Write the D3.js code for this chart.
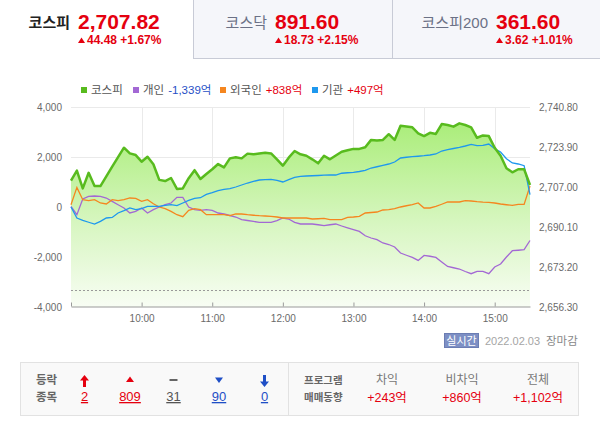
<!DOCTYPE html>
<html lang="ko">
<head>
<meta charset="utf-8">
<script src="https://cdn.jsdelivr.net/npm/d3@7"></script>
<style>
body { margin: 0; background: #fff; overflow: hidden; }
svg { display: block; font-family: "Liberation Sans", "Noto Sans CJK KR", sans-serif; }
</style>
</head>
<body>
<script>
// 데이터 (5분 단위)
var times = ["09:00","09:05","09:10","09:15","09:20","09:25","09:30","09:35","09:40","09:45",
  "09:50","09:55","10:00","10:05","10:10","10:15","10:20","10:25","10:30","10:35",
  "10:40","10:45","10:50","10:55","11:00","11:05","11:10","11:15","11:20","11:25",
  "11:30","11:35","11:40","11:45","11:50","11:55","12:00","12:05","12:10","12:15",
  "12:20","12:25","12:30","12:35","12:40","12:45","12:50","12:55","13:00","13:05",
  "13:10","13:15","13:20","13:25","13:30","13:35","13:40","13:45","13:50","13:55",
  "14:00","14:05","14:10","14:15","14:20","14:25","14:30","14:35","14:40","14:45",
  "14:50","14:55","15:00","15:05","15:10","15:15","15:20","15:25","15:30"];

var kospi = [2709.7,2713.9,2706.4,2713.0,2707.4,2707.4,2711.5,2715.6,2719.6,2723.6,
  2721.2,2720.5,2717.7,2719.8,2716.6,2710.0,2709.5,2710.8,2706.2,2706.4,
  2710.7,2714.1,2710.4,2712.5,2714.5,2716.7,2715.3,2719.1,2719.6,2719.1,
  2721.1,2720.8,2721.2,2721.5,2721.2,2718.7,2716.0,2719.4,2722.2,2720.8,
  2720.2,2718.7,2717.0,2720.2,2718.7,2720.3,2721.9,2722.5,2723.1,2723.1,
  2723.8,2726.9,2726.6,2726.9,2729.3,2726.9,2732.9,2732.6,2732.2,2729.7,
  2728.5,2729.9,2729.4,2733.6,2733.2,2732.5,2733.9,2733.2,2732.2,2727.8,
  2728.8,2728.5,2723.6,2720.2,2714.9,2713.2,2714.5,2714.5,2707.82];

var individual = [20,-308,320,424,440,424,360,224,92,-40,
  -240,-176,-40,-240,-108,0,92,160,384,384,
  0,-108,-136,-108,-136,-240,-280,-340,-400,-508,
  -540,-576,-616,-616,-616,-548,-440,-480,-616,-680,
  -680,-680,-710,-748,-710,-680,-760,-835,-905,-976,
  -1150,-1240,-1308,-1440,-1500,-1600,-1840,-1930,-2016,-2136,
  -1936,-1970,-2016,-2200,-2376,-2430,-2480,-2580,-2668,-2576,
  -2576,-2668,-2400,-2280,-2000,-1748,-1730,-1708,-1339];

var foreign = [92,784,292,252,292,160,120,292,252,292,
  360,344,224,292,132,0,-68,-176,-308,-388,
  -136,-68,-108,-308,-308,-308,-308,-348,-280,-280,
  -308,-330,-348,-360,-376,-400,-440,-440,-440,-440,
  -440,-480,-470,-456,-508,-508,-508,-416,-400,-376,
  -240,-220,-200,-120,-108,-68,0,50,92,160,
  -40,-40,24,110,200,200,200,252,240,212,
  195,184,160,120,90,64,104,104,838];

var institution = [0,-440,-536,-610,-680,-576,-440,-416,-240,-148,
  -40,-108,-68,24,24,24,64,92,52,160,
  264,344,372,504,572,652,704,732,800,880,
  960,1024,1080,1095,1104,1064,1000,1092,1184,1224,
  1240,1250,1260,1275,1280,1280,1350,1370,1384,1420,
  1464,1560,1610,1664,1720,1800,1960,1990,2012,2030,
  2052,2080,2120,2240,2292,2340,2384,2440,2504,2452,
  2464,2520,2332,2200,1932,1760,1720,1652,497];

var leftTicks = [-4000, -2000, 0, 2000, 4000];
var rightTicks = [2656.30, 2673.20, 2690.10, 2707.00, 2723.90, 2740.80];
var hourTicks = ["09:00", "10:00", "11:00", "12:00", "13:00", "14:00", "15:00"];
var prevClose = 2663.34;

var tabNames = ["코스피", "코스닥", "코스피200"];
var tabValues = ["2,707.82", "891.60", "361.60"];
var tabChanges = ["44.48 +1.67%", "18.73 +2.15%", "3.62 +1.01%"];

var legendNames = ["코스피", "개인", "외국인", "기관"];
var legendValues = ["", "-1,339억", "+838억", "+497억"];

var breadthCounts = ["2", "809", "31", "90", "0"];
var programLabels = ["차익", "비차익", "전체"];
var programValues = ["+243억", "+860억", "+1,102억"];

var red = "#e5000f", blue = "#1f4fc6";
var seriesColors = ["#58bb1e", "#a368d4", "#f5861f", "#1e98ee"];

var svg = d3.select("body").append("svg").attr("width", 600).attr("height", 426);

// 탭
var tabLeft = [0, 193.5, 392.5];
var tabRight = [193.5, 392.5, 601];
var labelEnd = [70, 267, 488];
[1, 2].forEach(function(i) {
  svg.append("rect")
    .attr("x", tabLeft[i]).attr("y", -1)
    .attr("width", tabRight[i] - tabLeft[i]).attr("height", 59.5)
    .attr("fill", "#f5f6fa").attr("stroke", "#c8cbd6");
});
tabNames.forEach(function(name, i) {
  svg.append("text")
    .attr("x", labelEnd[i]).attr("y", 28)
    .attr("text-anchor", "end")
    .attr("font-size", 15)
    .attr("font-weight", i === 0 ? "bold" : "normal")
    .attr("fill", i === 0 ? "#222" : "#6b7186")
    .text(name);
  svg.append("text")
    .attr("x", labelEnd[i] + 8).attr("y", 29)
    .attr("font-size", 21).attr("font-weight", "bold")
    .attr("fill", red)
    .text(tabValues[i]);
  var tx = labelEnd[i] + 8;
  svg.append("path")
    .attr("d", "M" + (tx + 3.5) + ",37.5L" + (tx + 7) + ",43L" + tx + ",43Z")
    .attr("fill", red);
  svg.append("text")
    .attr("x", tx + 9).attr("y", 44)
    .attr("font-size", 12).attr("font-weight", "bold")
    .attr("fill", red)
    .text(tabChanges[i]);
});

// 범례
var legendX = [81, 133, 220, 312];
legendNames.forEach(function(name, i) {
  svg.append("rect")
    .attr("x", legendX[i]).attr("y", 87)
    .attr("width", 6).attr("height", 6)
    .attr("fill", seriesColors[i]);
  var t = svg.append("text")
    .attr("x", legendX[i] + 10).attr("y", 93.5)
    .attr("font-size", 11.5).attr("fill", "#555");
  t.append("tspan").text(name);
  if (legendValues[i]) {
    t.append("tspan")
      .attr("dx", 4)
      .attr("fill", legendValues[i].charAt(0) === "-" ? blue : red)
      .text(legendValues[i]);
  }
});

// 스케일
var parseTime = d3.timeParse("%H:%M");
var x = d3.scaleTime().domain([parseTime("09:00"), parseTime("15:30")]).range([71, 530]);
var y = d3.scaleLinear().domain([-4000, 4000]).range([307, 107]);
var yPrice = d3.scaleLinear().domain([2656.3, 2740.8]).range([307, 107]);

var rows = times.map(function(t, i) {
  return {t: parseTime(t), kospi: kospi[i], ind: individual[i], frn: foreign[i], inst: institution[i]};
});

// 그리드
svg.selectAll(".hgrid")
  .data(leftTicks.slice(1))
  .enter()
  .append("line")
  .attr("x1", 71).attr("x2", 530)
  .attr("y1", function(d) { return Math.round(y(d)) + 0.5; })
  .attr("y2", function(d) { return Math.round(y(d)) + 0.5; })
  .attr("stroke", "#eaeaea");

svg.selectAll(".vgrid")
  .data(hourTicks.slice(1))
  .enter()
  .append("line")
  .attr("x1", function(d) { return Math.round(x(parseTime(d))) + 0.5; })
  .attr("x2", function(d) { return Math.round(x(parseTime(d))) + 0.5; })
  .attr("y1", 107).attr("y2", 307)
  .attr("stroke", "#eaeaea");

// 그라데이션
var grad = svg.append("defs").append("linearGradient")
  .attr("id", "kospiFill")
  .attr("gradientUnits", "userSpaceOnUse")
  .attr("x1", 0).attr("x2", 0).attr("y1", 120).attr("y2", 307);
grad.append("stop").attr("offset", "0%").attr("stop-color", "#a9ed78");
grad.append("stop").attr("offset", "55%").attr("stop-color", "#d7f6c0");
grad.append("stop").attr("offset", "100%").attr("stop-color", "#f8fdf4");

svg.append("path")
  .datum(rows)
  .attr("fill", "url(#kospiFill)")
  .attr("d", d3.area()
    .x(function(d) { return x(d.t); })
    .y0(307)
    .y1(function(d) { return yPrice(d.kospi); }));

// 전일 종가
svg.append("line")
  .attr("x1", 71).attr("x2", 530)
  .attr("y1", Math.round(yPrice(prevClose)) + 0.5)
  .attr("y2", Math.round(yPrice(prevClose)) + 0.5)
  .attr("stroke", "#999").attr("stroke-dasharray", "2,2");

// 투자자별 선
var flowKeys = ["ind", "frn", "inst"];
flowKeys.forEach(function(key, i) {
  svg.append("path")
    .datum(rows)
    .attr("fill", "none")
    .attr("stroke", seriesColors[i + 1])
    .attr("stroke-width", 1.3)
    .attr("d", d3.line()
      .x(function(d) { return x(d.t); })
      .y(function(d) { return y(d[key]); }));
});

// 코스피 선
svg.append("path")
  .datum(rows)
  .attr("fill", "none")
  .attr("stroke", seriesColors[0])
  .attr("stroke-width", 2.5)
  .attr("stroke-linejoin", "round")
  .attr("d", d3.line()
    .x(function(d) { return x(d.t); })
    .y(function(d) { return yPrice(d.kospi); }));

// 축
var comma = d3.format(",");
svg.append("g")
  .attr("transform", "translate(71,0)")
  .call(d3.axisLeft(y).tickValues(leftTicks).tickSize(0).tickPadding(9)
    .tickFormat(function(d) { return d < 0 ? "-" + comma(-d) : comma(d); }))
  .call(function(g) { g.select(".domain").remove(); });

svg.append("g")
  .attr("transform", "translate(530,0)")
  .call(d3.axisRight(yPrice).tickValues(rightTicks).tickSize(0).tickPadding(9)
    .tickFormat(d3.format(",.2f")))
  .call(function(g) { g.select(".domain").remove(); });

var hhmm = d3.timeFormat("%H:%M");
svg.append("g")
  .attr("transform", "translate(0,306.5)")
  .call(d3.axisBottom(x).tickValues(hourTicks.map(parseTime))
    .tickSizeInner(-4).tickSizeOuter(0).tickPadding(8)
    .tickFormat(function(d) { return hhmm(d) === "09:00" ? "" : hhmm(d); }));

svg.selectAll(".tick text")
  .attr("font-family", "Liberation Sans, sans-serif")
  .attr("font-size", 10)
  .attr("fill", "#6a6a6a");
svg.selectAll(".tick line").attr("stroke", "#9a9a9a");
svg.selectAll(".domain").attr("stroke", "#9a9a9a");

// 실시간 / 날짜
svg.append("rect")
  .attr("x", 444.5).attr("y", 333.5)
  .attr("width", 34).attr("height", 14)
  .attr("fill", "#7d8fc4").attr("stroke", "#6b7db3");
svg.append("text")
  .attr("x", 461.5).attr("y", 344.5)
  .attr("text-anchor", "middle")
  .attr("font-size", 11).attr("fill", "#fff")
  .text("실시간");
svg.append("text")
  .attr("x", 485).attr("y", 345)
  .attr("font-size", 11).attr("fill", "#a5a5a5")
  .text("2022.02.03");
svg.append("text")
  .attr("x", 546).attr("y", 345)
  .attr("font-size", 11.5).attr("fill", "#888")
  .text("장마감");

// 하단 패널
svg.append("rect")
  .attr("x", 20.5).attr("y", 362.5)
  .attr("width", 558).attr("height", 53)
  .attr("fill", "#f9f9f9").attr("stroke", "#e2e2e2");
svg.append("line")
  .attr("x1", 288.5).attr("x2", 288.5)
  .attr("y1", 362.5).attr("y2", 415.5)
  .attr("stroke", "#e2e2e2");

[["등락", 384], ["종목", 401]].forEach(function(d) {
  svg.append("text")
    .attr("x", 36).attr("y", d[1])
    .attr("font-size", 11.5).attr("font-weight", "bold").attr("fill", "#666")
    .text(d[0]);
});

var iconX = [84.5, 130, 173.5, 219, 264.5];
var countColors = [red, red, "#555", blue, blue];
var icons = [
  function(c) { return "M" + c + ",375L" + (c + 4.5) + ",380.5L" + (c + 1.5) + ",380.5L" + (c + 1.5) + ",387L" + (c - 1.5) + ",387L" + (c - 1.5) + ",380.5L" + (c - 4.5) + ",380.5Z"; },
  function(c) { return "M" + c + ",376.5L" + (c + 4) + ",382L" + (c - 4) + ",382Z"; },
  function(c) { return "M" + (c - 4) + ",379H" + (c + 4) + "V381H" + (c - 4) + "Z"; },
  function(c) { return "M" + (c - 4) + ",377.5H" + (c + 4) + "L" + c + ",383Z"; },
  function(c) { return "M" + c + ",387L" + (c + 4.5) + ",381.5L" + (c + 1.5) + ",381.5L" + (c + 1.5) + ",375L" + (c - 1.5) + ",375L" + (c - 1.5) + ",381.5L" + (c - 4.5) + ",381.5Z"; }
];
breadthCounts.forEach(function(v, i) {
  svg.append("path")
    .attr("d", icons[i](iconX[i]))
    .attr("fill", i === 2 ? "#666" : countColors[i]);
  svg.append("text")
    .attr("x", iconX[i]).attr("y", 401)
    .attr("text-anchor", "middle")
    .attr("font-size", 13)
    .attr("text-decoration", "underline")
    .attr("fill", countColors[i])
    .text(v);
});

[["프로그램", 384], ["매매동향", 401]].forEach(function(d) {
  svg.append("text")
    .attr("x", 304).attr("y", d[1])
    .attr("font-size", 10.5).attr("font-weight", "bold").attr("fill", "#666")
    .text(d[0]);
});

var programX = [387, 462, 538];
programLabels.forEach(function(label, i) {
  svg.append("text")
    .attr("x", programX[i]).attr("y", 384)
    .attr("text-anchor", "middle")
    .attr("font-size", 12).attr("fill", "#777")
    .text(label);
  svg.append("text")
    .attr("x", programX[i]).attr("y", 401.5)
    .attr("text-anchor", "middle")
    .attr("font-size", 12.5).attr("fill", red)
    .text(programValues[i]);
});
</script>
</body>
</html>
